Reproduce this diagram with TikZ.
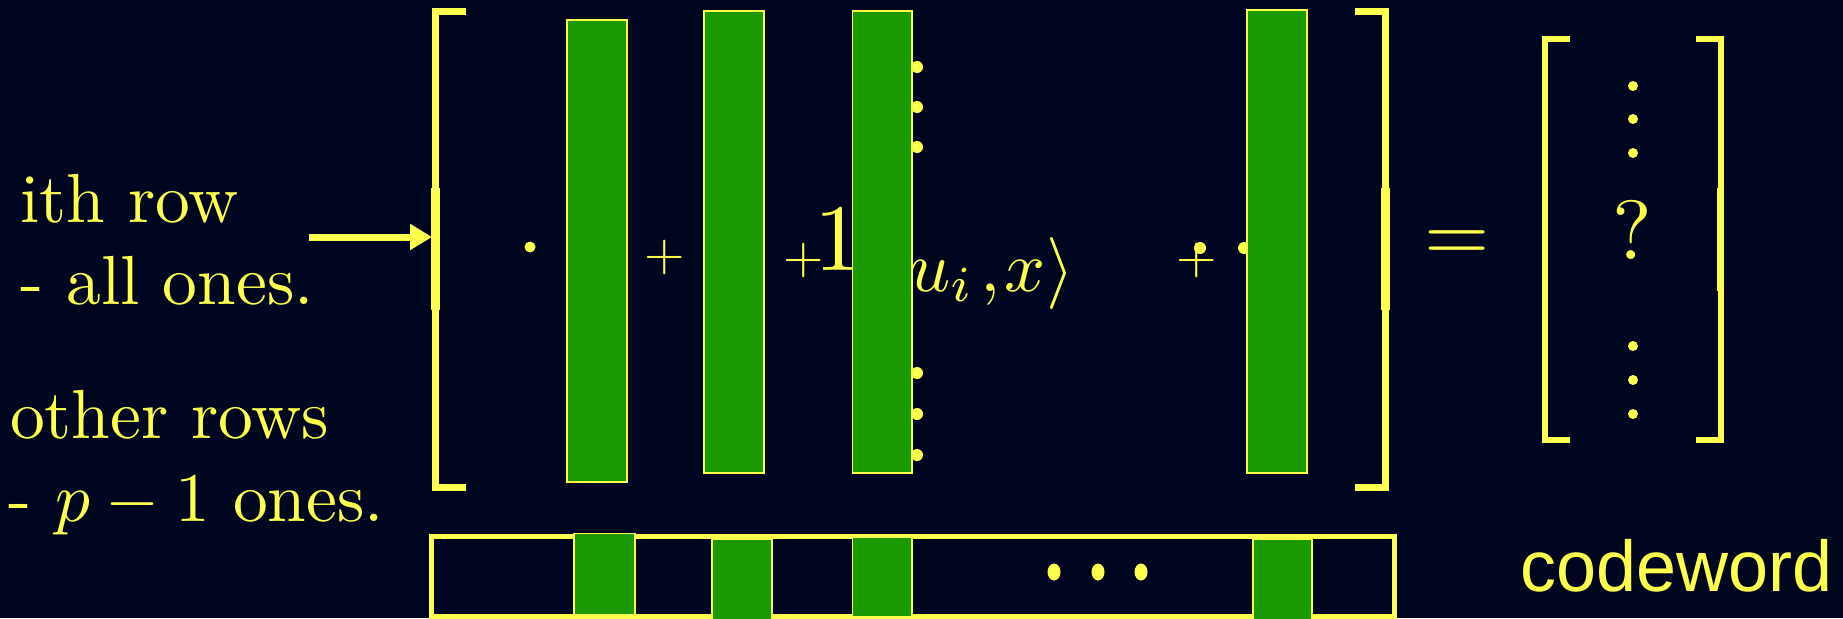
\documentclass[tikz,border=0pt]{standalone}
\usepackage{graphicx}
\usepackage[no-math]{fontspec}
\newfontfamily\cwfont{Liberation Sans}
\usetikzlibrary{arrows.meta}
\definecolor{bgc}{RGB}{0,6,32}
\definecolor{yel}{RGB}{255,255,77}
\definecolor{grn}{RGB}{26,153,0}
\newcommand\mysc[2]{\scalebox{#1}{#2}}
\begin{document}
\begin{tikzpicture}[x=1pt,y=-1pt,
  txt/.style={text=yel, inner sep=0pt, outer sep=0pt, font=\fontsize{10}{12}\selectfont},
  colbar/.style={fill=grn, draw=yel, line width=1.8pt},
  brk/.style={draw=yel, line width=7pt, line cap=butt, line join=miter},
  rbrk/.style={draw=yel, line width=6pt, line cap=butt, line join=miter},
  dotc/.style={fill=yel, draw=none},
]
\fill[bgc] (0,0) rectangle (1843,618);
\useasboundingbox (0,0) rectangle (1843,618);

% left labels
\node[txt, anchor=base west] (row1) at (20,222) {\mysc{6.95}{ith row}};
\node[txt, anchor=base west] (row2) at (20,304) {\mysc{6.95}{- all ones.}};
\node[txt, anchor=base west] (row3) at (10,438) {\mysc{6.95}{other rows}};
\node[txt, anchor=base west] (row4) at (9,521) {\mysc{6.95}{- $p-1$ ones.}};

% big brackets
\draw[brk] (466,11.5) -- (435,11.5) -- (435,487.5) -- (466,487.5);
\fill[yel] (431,188) rectangle (440,310);
\draw[brk] (1355,11.5) -- (1385,11.5) -- (1385,487.5) -- (1355,487.5);
\fill[yel] (1380.5,188) rectangle (1389.5,310);

% arrow
\coordinate (arrS) at (309,237);
\coordinate (lbr) at (432,237);
\draw[yel, line width=7pt, -{Triangle[length=22pt,width=25pt]}] (arrS) -- (lbr);

% operators and terms
\fill[dotc] (530,247) circle (5.5);
\node[txt] (plusA) at (665,257) {\mysc{5.2}{$+$}};
\node[txt] (plusB) at (803.5,260) {\mysc{5.2}{$+$}};
\node[txt, anchor=base] (one) at (838.5,270) {\mysc{9.5}{$1$}};
\node[txt, anchor=base east] (ip) at (1074,291) {\mysc{7.2}{$\langle u_i\mkern1.5mu{,}\mkern1mu x\rangle$}};
\node[txt] (plusC) at (1196.5,260) {\mysc{5.2}{$+$}};
\fill[dotc] (1200,248) circle (6);
\fill[dotc] (1244,248) circle (6);
\foreach \yy in {67,107,147,373,414,455} \fill[dotc] (917,\yy) circle (6);

% column bars
\draw[colbar] (567,20) rectangle (627,482);
\draw[colbar] (704,11) rectangle (764,473);
\draw[colbar] (852.5,11) rectangle (912,473);
\draw[colbar] (1247,10) rectangle (1307,473);

% equals and result vector
\node[txt, anchor=base] (eq) at (1457,261) {\mysc{8.4}{$=$}};
\draw[rbrk] (1570,39.5) -- (1544.5,39.5) -- (1544.5,440) -- (1570,440);
\fill[yel] (1541.5,188) rectangle (1548,291);
\draw[rbrk] (1696,39.5) -- (1720.5,39.5) -- (1720.5,440) -- (1696,440);
\fill[yel] (1717,188) rectangle (1723.5,291);
\foreach \yy in {86,119,153,346,380,414} \fill[dotc] (1633,\yy) circle (5);
\node[txt, anchor=base] (qm) at (1632,259) {\mysc{8.4}{?}};

% codeword
\draw[yel, line width=5pt] (431.5,536.5) rectangle (1394.5,616.5);
\draw[colbar] (574,533.5) rectangle (635,615);
\draw[colbar] (712,539) rectangle (772,624);
\draw[colbar] (852.5,537) rectangle (912,617);
\draw[colbar] (1253,539) rectangle (1312,624);
\foreach \xx in {1054,1098,1141} \fill[dotc] (\xx,572) ellipse (6.5 and 8.5);
\node[txt, anchor=base west, font={\cwfont\fontsize{72}{86}\selectfont}] (cw) at (1520,591) {codeword};
\end{tikzpicture}
\end{document}
